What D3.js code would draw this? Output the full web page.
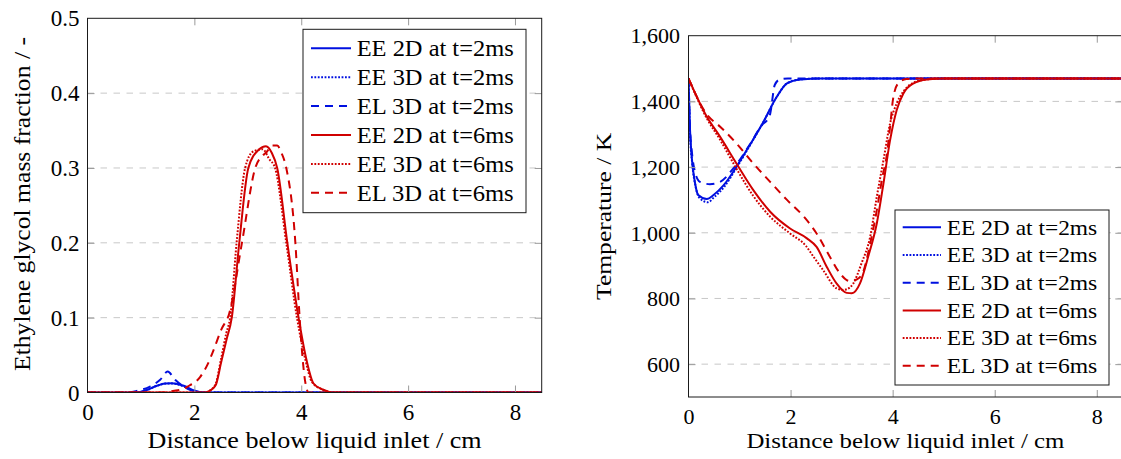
<!DOCTYPE html>
<html>
<head>
<meta charset="utf-8">
<script src="https://cdn.jsdelivr.net/npm/d3@7"></script>
<style>
  html, body { margin: 0; padding: 0; background: #fff; }
  svg { display: block; }
  text { font-family: "Liberation Serif", "Times New Roman", serif; fill: #000; }
</style>
</head>
<body>
<svg id="chart" width="1121" height="459"></svg>
<script>
// ---------------- DATA ----------------
const xTicks = [0, 2, 4, 6, 8];
const massTicks = [0, 0.1, 0.2, 0.3, 0.4, 0.5];
const tempTicks = [600, 800, 1000, 1200, 1400, 1600];
const seriesLabels = ["EE 2D at t=2ms", "EE 3D at t=2ms", "EL 3D at t=2ms",
                      "EE 2D at t=6ms", "EE 3D at t=6ms", "EL 3D at t=6ms"];
const xTitle = "Distance below liquid inlet / cm";
const massTitle = "Ethylene glycol mass fraction / -";
const tempTitle = "Temperature / K";

// Ethylene glycol mass fraction [distance cm, fraction]
const massEE2D_2ms = [[0,0],[0.9,0],[1.1,0.003],[1.3,0.009],[1.45,0.012],[1.58,0.0125],[1.7,0.011],[1.8,0.009],[1.98,0.003],[2.2,0],[8.5,0]];
const massEE3D_2ms = [[0,0],[0.9,0],[1.1,0.003],[1.3,0.009],[1.5,0.012],[1.6,0.012],[1.8,0.008],[2.0,0.002],[2.2,0],[8.5,0]];
const massEL3D_2ms = [[0,0],[0.75,0],[0.92,0.002],[1.17,0.008],[1.36,0.017],[1.5,0.028],[1.64,0.017],[1.8,0.008],[1.98,0.002],[2.2,0],[8.5,0]];
const massEE2D_6ms = [[0,0],[2.2,0],[2.3,0.003],[2.4,0.01],[2.5,0.04],[2.6,0.07],[2.7,0.1],[2.84,0.2],[3.01,0.3],[3.2,0.324],[3.34,0.329],[3.45,0.32],[3.55,0.3],[3.74,0.2],[3.95,0.1],[4.1,0.043],[4.23,0.012],[4.4,0.004],[4.6,0],[8.5,0]];
const massEE3D_6ms = [[0,0],[2.2,0],[2.3,0.003],[2.4,0.012],[2.5,0.045],[2.6,0.08],[2.67,0.1],[2.79,0.2],[2.95,0.3],[3.1,0.322],[3.28,0.325],[3.4,0.312],[3.51,0.3],[3.72,0.2],[3.92,0.1],[4.08,0.043],[4.2,0.014],[4.4,0.004],[4.6,0],[8.5,0]];
const massEL3D_6ms = [[0,0],[1.4,0],[1.6,0.002],[1.8,0.005],[1.92,0.01],[2.0,0.013],[2.11,0.021],[2.25,0.038],[2.35,0.055],[2.51,0.085],[2.65,0.105],[2.89,0.2],[3.14,0.3],[3.3,0.318],[3.36,0.322],[3.45,0.33],[3.55,0.33],[3.63,0.32],[3.72,0.3],[3.89,0.2],[3.97,0.1],[4.02,0.05],[4.08,0.012],[4.14,0],[8.5,0]];

// Temperature [distance cm, K]
const tempEE2D_2ms = [[0,1470],[0.03,1313],[0.063,1231],[0.13,1150],[0.19,1115],[0.36,1103],[0.49,1115],[0.69,1145],[0.94,1201],[1.2,1267],[1.47,1338],[1.73,1414],[1.93,1455],[2.2,1467],[2.6,1470],[8.5,1470]];
const tempEE3D_2ms = [[0,1470],[0.03,1300],[0.07,1215],[0.14,1140],[0.22,1105],[0.38,1093],[0.5,1108],[0.7,1140],[0.94,1198],[1.2,1265],[1.47,1338],[1.73,1414],[1.93,1455],[2.2,1467],[2.6,1470],[8.5,1470]];
const tempEL3D_2ms = [[0,1470],[0.03,1320],[0.07,1240],[0.12,1190],[0.225,1155],[0.42,1148],[0.62,1155],[0.88,1196],[1.2,1268],[1.45,1330],[1.55,1345],[1.6,1362],[1.69,1450],[1.79,1467],[1.95,1470],[8.5,1470]];
const tempEE2D_6ms = [[0,1470],[0.36,1353],[0.62,1292],[0.94,1211],[1.27,1130],[1.6,1064],[1.99,1013],[2.32,983],[2.51,957],[2.71,896],[2.9,846],[3.1,817],[3.2,816],[3.36,846],[3.52,927],[3.69,1029],[3.82,1150],[3.95,1282],[4.08,1374],[4.21,1424],[4.41,1455],[4.67,1467],[5.0,1470],[8.5,1470]];
const tempEE3D_6ms = [[0,1470],[0.36,1348],[0.62,1283],[0.94,1195],[1.27,1112],[1.6,1049],[1.99,998],[2.3,960],[2.45,927],[2.64,886],[2.9,831],[3.03,826],[3.1,828],[3.23,846],[3.39,907],[3.56,988],[3.69,1110],[3.82,1221],[3.95,1333],[4.08,1394],[4.21,1430],[4.41,1457],[4.67,1467],[5.0,1470],[8.5,1470]];
const tempEL3D_6ms = [[0,1470],[0.36,1360],[0.62,1323],[0.94,1272],[1.27,1211],[1.6,1155],[1.93,1100],[2.26,1049],[2.51,998],[2.77,927],[2.97,876],[3.1,856],[3.17,853],[3.3,858],[3.42,880],[3.55,960],[3.68,1060],[3.8,1170],[3.88,1231],[3.95,1323],[4.01,1409],[4.11,1455],[4.27,1468],[4.5,1470],[8.5,1470]];

// ---------------- STYLES ----------------
const BLUE = "#0010e0", RED = "#d00000";
const styles = [
  {color: BLUE, dash: null},
  {color: BLUE, dash: "1.8,1.6"},
  {color: BLUE, dash: "8,6"},
  {color: RED, dash: null},
  {color: RED, dash: "1.8,1.6"},
  {color: RED, dash: "8,6"}
];

const svg = d3.select("#chart");
svg.append("rect").attr("width", 1121).attr("height", 459).attr("fill", "#fff");

function drawPanel(cfg) {
  const g = svg.append("g");
  const x = d3.scaleLinear().domain([0, 8.5]).range([cfg.left, cfg.right]);
  const y = d3.scaleLinear().domain(cfg.yDomain).range([cfg.bottom, cfg.top]);
  const fs = cfg.fontSize;

  // grid
  g.append("g").selectAll("line")
    .data(cfg.yTicks.filter(v => v > cfg.yDomain[0] && v < cfg.yDomain[1]))
    .join("line")
    .attr("x1", cfg.left).attr("x2", cfg.right)
    .attr("y1", d => y(d)).attr("y2", d => y(d))
    .attr("stroke", "#c8c8c8").attr("stroke-width", 1)
    .attr("stroke-dasharray", "6.5,6.5");

  // clip
  const clipId = "clip" + cfg.id;
  svg.append("clipPath").attr("id", clipId).append("rect")
    .attr("x", cfg.left).attr("y", cfg.top)
    .attr("width", cfg.right - cfg.left).attr("height", cfg.bottom - cfg.top);

  const line = d3.line().x(d => x(d[0])).y(d => y(d[1])).curve(d3.curveMonotoneX);
  const lg = g.append("g").attr("clip-path", `url(#${clipId})`);
  cfg.series.forEach((s, i) => {
    lg.append("path").attr("d", line(s))
      .attr("fill", "none")
      .attr("stroke", styles[i].color)
      .attr("stroke-width", 2)
      .attr("stroke-linejoin", "round")
      .attr("stroke-dasharray", styles[i].dash);
  });

  // axes via d3 (ticks inward on all four sides)
  const tickLen = 7;
  const axB = d3.axisBottom(x).tickValues(xTicks).tickSize(-tickLen).tickFormat(d3.format("d"));
  const axT = d3.axisTop(x).tickValues(xTicks).tickSize(-tickLen).tickFormat("");
  const axL = d3.axisLeft(y).tickValues(cfg.yTicks).tickSize(-tickLen).tickFormat(cfg.yFormat);
  const axR = d3.axisRight(y).tickValues(cfg.yTicks).tickSize(-tickLen).tickFormat("");
  function style(sel, labelOffsetFn) {
    sel.select(".domain").remove();
    sel.selectAll(".tick line").attr("stroke", "#9a9a9a").attr("stroke-width", 1);
    sel.selectAll(".tick text").attr("font-size", fs).attr("font-family", "Liberation Serif").attr("fill", "#000");
  }
  const gB = g.append("g").attr("transform", `translate(0,${cfg.bottom})`).call(axB);
  style(gB);
  gB.selectAll(".tick text").attr("y", cfg.xLabelBaseline - cfg.bottom).attr("dy", null);
  gB.selectAll(".tick").filter(d => d === 0).select("line").remove();
  const gT = g.append("g").attr("transform", `translate(0,${cfg.top})`).call(axT);
  style(gT);
  gT.selectAll(".tick").filter(d => d === 0).select("line").remove();
  const gL = g.append("g").attr("transform", `translate(${cfg.left},0)`).call(axL);
  style(gL);
  gL.selectAll(".tick text").attr("x", -cfg.yLabelGap).attr("dy", "0.33em");
  gL.selectAll(".tick").filter(d => d === cfg.yDomain[0] || d === cfg.yDomain[1]).select("line").remove();
  const gR = g.append("g").attr("transform", `translate(${cfg.right},0)`).call(axR);
  style(gR);
  gR.selectAll(".tick").filter(d => d === cfg.yDomain[0] || d === cfg.yDomain[1]).select("line").remove();

  // frame
  g.append("rect").attr("x", cfg.left).attr("y", cfg.top)
    .attr("width", cfg.right - cfg.left).attr("height", cfg.bottom - cfg.top)
    .attr("fill", "none").attr("stroke", "#1a1a1a").attr("stroke-width", 1);

  // axis titles
  g.append("text").attr("x", (cfg.left + cfg.right) / 2).attr("y", cfg.xTitleBaseline)
    .attr("text-anchor", "middle").attr("font-size", fs)
    .attr("textLength", cfg.xTitleLen).attr("lengthAdjust", "spacingAndGlyphs")
    .text(xTitle);
  const cy = cfg.yTitleCenter;
  g.append("text")
    .attr("transform", `translate(${cfg.yTitleBaseline},${cy}) rotate(-90)`)
    .attr("text-anchor", "middle").attr("font-size", fs)
    .attr("textLength", cfg.yTitleLen).attr("lengthAdjust", "spacingAndGlyphs")
    .text(cfg.yTitle);

  // legend
  const L = cfg.legend;
  const lgG = g.append("g");
  lgG.append("rect").attr("x", L.x).attr("y", L.y).attr("width", L.w).attr("height", L.h)
    .attr("fill", "#fff").attr("stroke", "#1a1a1a").attr("stroke-width", 1);
  seriesLabels.forEach((lab, i) => {
    const yy = L.firstRow + i * L.rowStep;
    lgG.append("line").attr("x1", L.sx1).attr("x2", L.sx2).attr("y1", yy).attr("y2", yy)
      .attr("stroke", styles[i].color).attr("stroke-width", 2)
      .attr("stroke-dasharray", styles[i].dash);
    lgG.append("text").attr("x", L.tx).attr("y", yy + fs * 0.335)
      .attr("font-size", fs)
      .attr("textLength", L.tLen).attr("lengthAdjust", "spacingAndGlyphs")
      .text(lab);
  });
}

drawPanel({
  id: "A", left: 87.5, right: 541.7, top: 18.3, bottom: 392.5,
  yDomain: [0, 0.5], yTicks: massTicks, yFormat: d3.format(".1~f"),
  fontSize: 23, yLabelGap: 8, xLabelBaseline: 420,
  xTitleBaseline: 447.5, xTitleLen: 334,
  yTitle: massTitle, yTitleBaseline: 29.5, yTitleCenter: 204, yTitleLen: 334,
  series: [massEE2D_2ms, massEE3D_2ms, massEL3D_2ms, massEE2D_6ms, massEE3D_6ms, massEL3D_6ms],
  legend: {x: 303, y: 29.3, w: 223, h: 183.4, firstRow: 48.3, rowStep: 28.9,
           sx1: 311, sx2: 351, tx: 356.7, tLen: 157}
});

drawPanel({
  id: "B", left: 688.5, right: 1122.3, top: 35.7, bottom: 397,
  yDomain: [500, 1600], yTicks: tempTicks, yFormat: d3.format(",d"),
  fontSize: 22, yLabelGap: 8.5, xLabelBaseline: 423.5,
  xTitleBaseline: 448, xTitleLen: 318,
  yTitle: tempTitle, yTitleBaseline: 610.5, yTitleCenter: 216.4, yTitleLen: 167,
  series: [tempEE2D_2ms, tempEE3D_2ms, tempEL3D_2ms, tempEE2D_6ms, tempEE3D_6ms, tempEL3D_6ms],
  legend: {x: 895, y: 210, w: 214, h: 175, firstRow: 227.3, rowStep: 27.7,
           sx1: 902.7, sx2: 941, tx: 946.7, tLen: 150.5}
});
</script>
</body>
</html>
